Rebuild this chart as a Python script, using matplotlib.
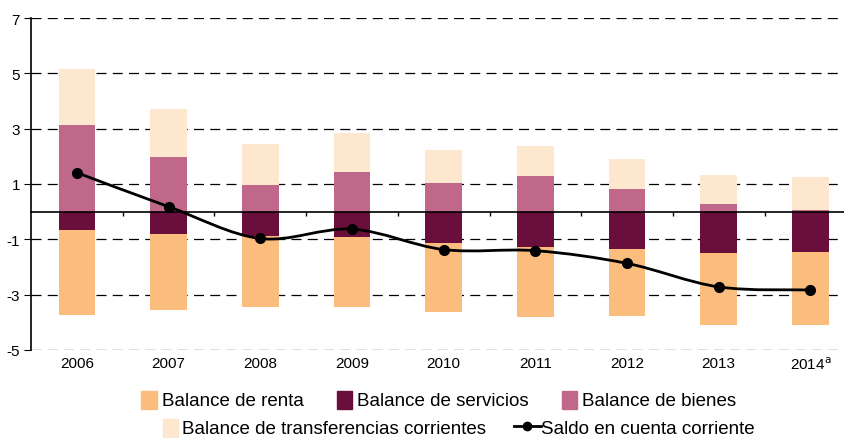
import numpy as np
import matplotlib
matplotlib.use("Agg")
import matplotlib.pyplot as plt
from matplotlib.path import Path
from matplotlib.patches import PathPatch, Patch, Rectangle
from matplotlib.lines import Line2D
from matplotlib.legend_handler import HandlerPatch

plt.rcParams['font.family'] = ['Liberation Sans', 'DejaVu Sans']
plt.rcParams['axes.unicode_minus'] = False

# data (porcentajes del PIB)
years = ['2006', '2007', '2008', '2009', '2010', '2011', '2012', '2013', '2014$^{\\mathrm{a}}$']
renta = [-3.07, -2.75, -2.56, -2.52, -2.49, -2.55, -2.43, -2.60, -2.63]
servicios = [-0.65, -0.79, -0.87, -0.93, -1.13, -1.26, -1.35, -1.48, -1.46]
bienes = [3.15, 1.99, 0.97, 1.43, 1.02, 1.30, 0.82, 0.28, 0.07]
transferencias = [2.00, 1.73, 1.48, 1.40, 1.22, 1.09, 1.08, 1.04, 1.18]
saldo = [1.41, 0.18, -0.97, -0.63, -1.37, -1.41, -1.87, -2.72, -2.83]

c_renta = '#FBBD7D'
c_serv = '#6A0F3B'
c_bienes = '#BF6889'
c_transf = '#FEE7CF'

x = np.arange(len(years))
w = 0.4

fig = plt.figure(figsize=(8.45, 4.39), dpi=100)
ax = fig.add_axes([31 / 845, 0.2005, 814 / 845, 0.7562])

ax.bar(x, servicios, w, color=c_serv, zorder=2)
ax.bar(x, renta, w, bottom=servicios, color=c_renta, zorder=2)
ax.bar(x, bienes, w, color=c_bienes, zorder=2)
ax.bar(x, transferencias, w, bottom=bienes, color=c_transf, zorder=2)

# smoothed line (bezier through the points)
pts = np.column_stack([x, saldo]).astype(float)
verts = [pts[0]]
codes = [Path.MOVETO]
for i in range(len(pts) - 1):
    p0 = pts[i - 1] if i > 0 else pts[i]
    p1 = pts[i]
    p2 = pts[i + 1]
    p3 = pts[i + 2] if i + 2 < len(pts) else pts[i + 1]
    verts += [p1 + (p2 - p0) / 6, p2 - (p3 - p1) / 6, p2]
    codes += [Path.CURVE4] * 3
ax.add_patch(PathPatch(Path(verts, codes), facecolor='none', edgecolor='black', lw=2, zorder=4))
ax.plot(x, saldo, 'o', color='black', ms=7, zorder=5)

ax.set_ylim(-5, 7)
ax.set_xlim(-0.5, -0.5 + 814 / 91.7)
ax.set_yticks([7, 5, 3, 1, -1, -3, -5])
ax.yaxis.grid(True, linestyle=(0, (8, 5)), color='black', lw=0.9)
ax.set_axisbelow(True)
ax.tick_params(axis='y', direction='out', length=5, labelsize=11, pad=3)

for s in ['top', 'right']:
    ax.spines[s].set_visible(False)
ax.spines['left'].set_linewidth(1.2)
ax.spines['bottom'].set_position(('data', 0))
ax.spines['bottom'].set_linewidth(1.2)
ax.spines['bottom'].set_zorder(3)
ax.set_xticks(x)
ax.set_xticklabels([])
ax.tick_params(axis='x', which='major', length=0)
ax.set_xticks(x[:-1] + 0.5, minor=True)
ax.tick_params(axis='x', which='minor', direction='out', length=3, width=1)

sec = ax.secondary_xaxis('bottom')
sec.set_xticks(x)
sec.set_xticklabels(years)
sec.tick_params(length=0, labelsize=11, pad=4)
sec.spines['bottom'].set_visible(False)


def square_patch(legend, orig_handle, xdescent, ydescent, width, height, fontsize):
    side = height * 1.1
    return Rectangle((width - side - xdescent, -ydescent - 0.1 * height), side * 0.85, side)


hm = {Patch: HandlerPatch(patch_func=square_patch)}

h1 = [Patch(color=c_renta), Patch(color=c_serv), Patch(color=c_bienes)]
l1 = ['Balance de renta', 'Balance de servicios', 'Balance de bienes']
fig.legend(h1, l1, loc='center', bbox_to_anchor=(441 / 845, 1 - 401 / 439), ncol=3,
           frameon=False, fontsize=13.5, handlelength=0.75, handleheight=1.0,
           handletextpad=0.1, columnspacing=2.0, handler_map=hm, borderpad=0.1)
h2 = [Patch(color=c_transf), Line2D([], [], color='black', lw=2, marker='o', ms=6)]
l2 = ['Balance de transferencias corrientes', 'Saldo en cuenta corriente']
fig.legend(h2, l2, loc='center', bbox_to_anchor=(455 / 845, 1 - 429 / 439), ncol=2,
           frameon=False, fontsize=13.5, handlelength=1.4, handleheight=1.0,
           handletextpad=0.05, columnspacing=1.5, handler_map=hm, borderpad=0.1)

fig.savefig('out.png', dpi=100)
